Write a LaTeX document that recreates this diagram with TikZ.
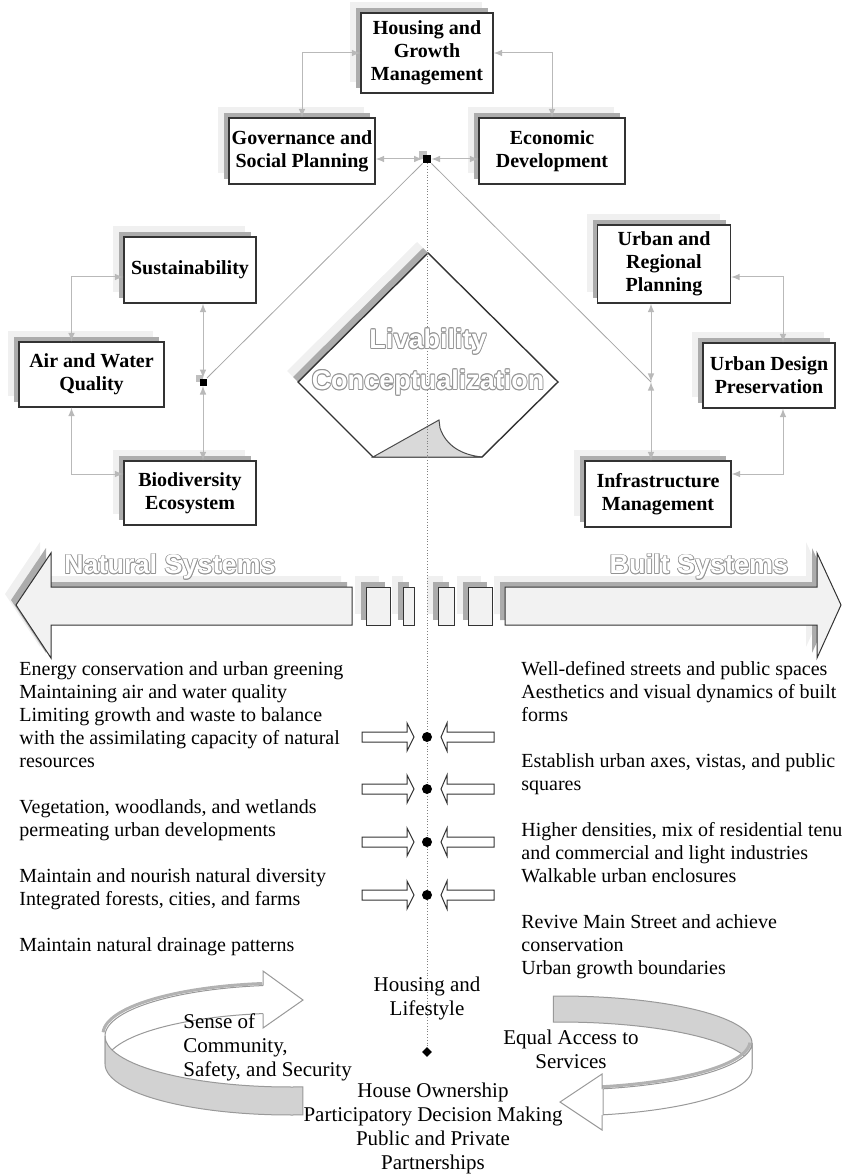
\documentclass[tikz,border=0pt]{standalone}
\usepackage{fontspec}
\setmainfont{Liberation Serif}
\newfontfamily\bannerfont{Liberation Sans}
\usetikzlibrary{arrows,shapes,shapes.geometric,positioning,calc,shadows}

% outlined (hollow) lettering: gray copies round a white copy
\newcommand{\ghostcopy}[3]{\rlap{\kern#1\raisebox{#2}{\textcolor{gray!85}{#3}}}}
\newcommand{\hollow}[1]{%
  \ghostcopy{0.45pt}{0pt}{#1}\ghostcopy{-0.45pt}{0pt}{#1}%
  \ghostcopy{0pt}{0.45pt}{#1}\ghostcopy{0pt}{-0.45pt}{#1}%
  \ghostcopy{0.32pt}{0.32pt}{#1}\ghostcopy{-0.32pt}{0.32pt}{#1}%
  \ghostcopy{0.32pt}{-0.32pt}{#1}\ghostcopy{-0.32pt}{-0.32pt}{#1}%
  \textcolor{white}{#1}}

\tikzset{
  paper/.style = {draw=black!80, line width=0.6pt, fill=white,
    general shadow={shadow xshift=-5.5pt, shadow yshift=5.5pt, fill=gray!12},
    general shadow={shadow xshift=-2.5pt, shadow yshift=2.5pt, fill=gray!65}},
  topic/.style = {paper, rectangle, align=center, inner sep=1pt,
    font=\fontsize{10}{11.5}\selectfont\bfseries},
  link/.style = {<->, >=latex, draw=gray!55, line width=0.5pt},
  spoke/.style = {draw=gray!70, line width=0.4pt},
  hubsq/.style = {rectangle, fill=black, inner sep=0pt, minimum size=4pt,
    general shadow={shadow xshift=-2pt, shadow yshift=2pt, fill=gray!50}},
  band/.style = {paper, fill=gray!10, line width=0.5pt},
  hollowarrow/.style = {draw=black!80, line width=0.5pt, fill=white},
  joindot/.style = {circle, fill=black, inner sep=0pt, minimum size=5pt},
  listtext/.style = {align=left, inner sep=0pt, font=\fontsize{10}{11.5}\selectfont},
  looptext/.style = {inner sep=0pt, font=\fontsize{10.5}{12}\selectfont},
  ribbonback/.style = {fill=white, draw=gray!80, line width=0.5pt},
  ribbonfront/.style = {fill=gray!35, draw=gray!80, line width=0.5pt},
  outlinetext/.style = {align=center, inner sep=0pt,
    font=\bannerfont\bfseries\fontsize{13.5}{20.5}\selectfont}
}

\begin{document}
\begin{tikzpicture}[x=0.5pt, y=-0.5pt]
\useasboundingbox (0,0) rectangle (841,1176);

% top group
\node[topic, minimum width=66pt, minimum height=40pt] (hgm) at (427,53) {Housing and\\Growth\\Management};
\node[topic, minimum width=73pt, minimum height=33pt] (gov) at (302,151) {Governance and\\Social Planning};
\node[topic, minimum width=73pt, minimum height=33pt] (eco) at (552,151) {Economic\\Development};

% natural group
\node[topic, minimum width=66pt, minimum height=33pt] (sus) at (190,270) {Sustainability};
\node[topic, minimum width=72.5pt, minimum height=32.5pt] (awq) at (91.5,374.5) {Air and Water\\Quality};
\node[topic, minimum width=66pt, minimum height=32pt] (bio) at (190,493) {Biodiversity\\Ecosystem};

% built group
\node[topic, minimum width=66.5pt, minimum height=39pt] (urp) at (664,264) {Urban and\\Regional\\Planning};
\node[topic, minimum width=66pt, minimum height=32.5pt] (udp) at (769,375.5) {Urban Design\\Preservation};
\node[topic, minimum width=73pt, minimum height=33pt] (inf) at (658,494) {Infrastructure\\Management};

% junctions
\node[hubsq] (hub) at (427,159) {};
\node[hubsq, minimum size=3.5pt] (lhub) at (203,382) {};
\coordinate (rjoin) at (651,382);

% links inside each group
\draw[link] (gov.north) |- (hgm.west);
\draw[link] (eco.north) |- (hgm.east);
\draw[link] (hub) -- (hub -| gov.east);
\draw[link] (hub) -- (hub -| eco.west);

\draw[link] ([xshift=-10pt]awq.north) |- ([yshift=-3.5pt]sus.west);
\draw[link] ([xshift=-10pt]awq.south) |- ([yshift=9.5pt]bio.west);
\draw[link] (lhub) -- (lhub |- sus.south);
\draw[link] (lhub) -- (lhub |- bio.north);

\draw[link] ([yshift=-6.5pt]urp.east) -| ([xshift=7pt]udp.north);
\draw[link] ([xshift=7pt]udp.south) |- ([yshift=10pt]inf.east);
\draw[link] (rjoin) -- (rjoin |- urp.south);
\draw[link] (rjoin) -- (rjoin |- inf.north);

\draw[spoke] (hub) -- (lhub);
\draw[spoke] (hub) -- (rjoin);

% livability sign with curled corner
\draw[paper, line width=0.7pt] (428,253) -- (558,382) -- (482,457) -- (373,457) -- (298,382) -- cycle;
\draw[draw=black!70, line width=0.5pt, fill=gray!30] (373,457) -- (439,420) -- (440,428)
  .. controls (446,446) and (462,455) .. (482,457) -- cycle;

% systems banner
\draw[band] (352,587) -- (51,587) -- (51,553) -- (16,605) -- (51,658) -- (51,625) -- (352,625) -- cycle;
\draw[band] (505,587) -- (817,587) -- (817,553) -- (841,605) -- (817,658) -- (817,625) -- (505,625) -- cycle;
\foreach \xa/\xb in {366/390, 403/414, 438/454, 468/492}
  \draw[band] (\xa,587) rectangle (\xb,625);

\coordinate (axisend) at (427,1052);
\draw[gray, line width=0.4pt, densely dotted] (hub.south) -- (axisend);

\node[outlinetext] (livtitle) at (428,362) {\hollow{Livability}\\\hollow{Conceptualization}};
\node[outlinetext] (natural) at (170,567) {\hollow{Natural Systems}};
\node[outlinetext] (built) at (699,567) {\hollow{Built Systems}};

% arrows meeting on the axis
\foreach \y [count=\i] in {737,789,842,895}{
  \draw[hollowarrow] (362,\y-5) -- (407,\y-5) -- (407,\y-14) -- (414,\y) -- (407,\y+14) -- (407,\y+5) -- (362,\y+5) -- cycle;
  \draw[hollowarrow] (494,\y-5) -- (447,\y-5) -- (447,\y-14) -- (441,\y) -- (447,\y+14) -- (447,\y+5) -- (494,\y+5) -- cycle;
  \node[joindot] (meet\i) at (427,\y) {};
}

\node[listtext, anchor=north west] (natlist) at (19,661) {Energy conservation and urban greening\\
Maintaining air and water quality\\
Limiting growth and waste to balance\\
with the assimilating capacity of natural\\
resources\\[11.5pt]
Vegetation, woodlands, and wetlands\\
permeating urban developments\\[11.5pt]
Maintain and nourish natural diversity\\
Integrated forests, cities, and farms\\[11.5pt]
Maintain natural drainage patterns};

\node[listtext, anchor=north west] (builtlist) at (521,661) {Well-defined streets and public spaces\\
Aesthetics and visual dynamics of built\\
forms\\[11.5pt]
Establish urban axes, vistas, and public\\
squares\\[11.5pt]
Higher densities, mix of residential tenu\\
and commercial and light industries\\
Walkable urban enclosures\\[11.5pt]
Revive Main Street and achieve\\
conservation\\
Urban growth boundaries};

% left loop ribbon
\draw[ribbonback] plot[domain=98:180, samples=30] ({290+185*cos(\x)}, {1036-51*sin(\x)})
  -- plot[domain=180:98, samples=30] ({290+185*cos(\x)}, {1064-51*sin(\x)}) -- cycle;
\draw[gray!60, line width=1.5pt] plot[domain=98:178, samples=30] ({288+185*cos(\x)}, {1034-51*sin(\x)});
\draw[ribbonfront] plot[domain=180:274, samples=30] ({290+185*cos(\x)}, {1036-51*sin(\x)})
  -- plot[domain=274:180, samples=30] ({290+185*cos(\x)}, {1064-51*sin(\x)}) -- cycle;
\fill[white] (263,971) -- (303,1000) -- (263,1028) -- cycle;
\draw[gray!80, line width=0.5pt] (263,985.5) -- (263,971) -- (303,1000) -- (263,1028) -- (263,1013.5);

% right loop ribbon
\draw[ribbonfront] plot[domain=92:0, samples=30] ({560+192*cos(\x)}, {1043-47*sin(\x)})
  -- plot[domain=0:92, samples=30] ({560+192*cos(\x)}, {1069-47*sin(\x)}) -- cycle;
\draw[ribbonback] plot[domain=0:-77, samples=30] ({560+192*cos(\x)}, {1043-47*sin(\x)})
  -- plot[domain=-77:0, samples=30] ({560+192*cos(\x)}, {1069-47*sin(\x)}) -- cycle;
\draw[gray!60, line width=1.5pt] plot[domain=-2:-77, samples=30] ({558+192*cos(\x)}, {1041-47*sin(\x)});
\fill[white] (602,1074) -- (560,1102) -- (602,1130) -- cycle;
\draw[gray!80, line width=0.5pt] (602,1089) -- (602,1074) -- (560,1102) -- (602,1130) -- (602,1115);

% housing and lifestyle
\node[looptext, align=center, anchor=north] (hls) at (427,977) {Housing and\\Lifestyle};
\node[looptext, align=left, anchor=north west] (soc) at (183,1013) {Sense of\\Community,\\Safety, and Security};
\node[looptext, align=center, anchor=north] (eas) at (571,1030) {Equal Access to\\Services};
\node[looptext, align=center, anchor=north] (hop) at (433,1083) {House Ownership\\Participatory Decision Making\\Public and Private\\Partnerships};
\node[diamond, fill=black, inner sep=0pt, minimum size=5pt] (hsdot) at (axisend) {};

\end{tikzpicture}
\end{document}
